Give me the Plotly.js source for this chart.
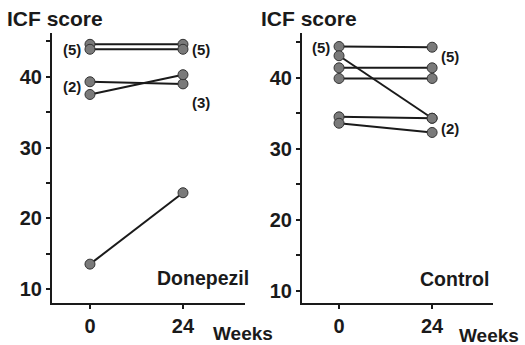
<!DOCTYPE html>
<html><head><meta charset="utf-8">
<script src="https://cdn.plot.ly/plotly-3.0.1.min.js"></script>
<style>html,body{margin:0;padding:0;background:#fff}#c{width:525px;height:345px}</style>
</head><body><div id="c"></div>
<script>
const weeks = [0, 24];
const weekTickLabels = ['0', '24'];
const scoreTicks = [10, 15, 20, 25, 30, 35, 40, 45];
const scoreTickLabels = ['10', '', '20', '', '30', '', '40', ''];
const donepezilWeek0 = [44.6, 43.9, 39.3, 37.5, 13.5];
const donepezilWeek24 = [44.6, 43.9, 39.0, 40.3, 23.6];
const controlWeek0 = [44.4, 43.1, 41.4, 39.9, 34.5, 33.6];
const controlWeek24 = [44.3, 34.3, 41.4, 39.9, 34.3, 32.3];
const donepezilCounts = [{x: 0, y: 43.9, t: '(5)', side: 'left'}, {x: 24, y: 43.9, t: '(5)', side: 'right'},
  {x: 0, y: 38.6, t: '(2)', side: 'left'}, {x: 24, y: 36.4, t: '(3)', side: 'right'}];
const controlCounts = [{x: 0, y: 44.2, t: '(5)', side: 'left'}, {x: 24, y: 43.0, t: '(5)', side: 'right'},
  {x: 24, y: 32.9, t: '(2)', side: 'right'}];

const FONT = 'Liberation Sans, Arial, sans-serif';
const INK = '#1a1a1a';
const traces = [];
function addLines(w0, w24, xa, ya) {
  for (let i = 0; i < w0.length; i++) {
    traces.push({x: weeks, y: [w0[i], w24[i]], xaxis: xa, yaxis: ya, mode: 'lines+markers',
      type: 'scatter', showlegend: false, hoverinfo: 'skip',
      line: {color: INK, width: 2},
      marker: {size: 10, color: '#7a7a7a', line: {color: '#333', width: 1}}});
  }
}
addLines(donepezilWeek0, donepezilWeek24, 'x', 'y');
addLines(controlWeek0, controlWeek24, 'x2', 'y2');

const tf = {family: FONT, size: 20, color: INK, weight: 'bold'};
const yDom = [1 - 303 / 345, 1 - 33 / 345];
function yax(range, anchor, overlay, inside) {
  const a = {domain: yDom, range: range, anchor: anchor, showline: true, linecolor: INK, linewidth: 2,
    showgrid: false, zeroline: false, tickmode: 'array', tickvals: scoreTicks,
    ticktext: scoreTickLabels, ticks: inside ? 'inside' : 'outside', ticklen: 4, tickwidth: 2,
    tickcolor: INK, tickfont: tf};
  if (overlay) { a.overlaying = overlay; a.showticklabels = false; }
  return a;
}
function xax(domain, range, anchor, overlay, inside) {
  const a = {domain: domain, range: range, anchor: anchor, showline: true, linecolor: INK, linewidth: 2,
    showgrid: false, zeroline: false, tickmode: 'array', tickvals: weeks, ticktext: weekTickLabels,
    ticks: inside ? 'inside' : 'outside', ticklen: 4, tickwidth: 2, tickcolor: INK, tickfont: tf};
  if (overlay) { a.overlaying = overlay; a.showticklabels = false; }
  return a;
}
const xL = [52 / 525, 245 / 525], xR = [302 / 525, 493 / 525];
const layout = {
  width: 525, height: 345, margin: {l: 0, r: 0, t: 0, b: 0},
  paper_bgcolor: '#fff', plot_bgcolor: 'rgba(0,0,0,0)', showlegend: false,
  xaxis: xax(xL, [-9.8, 40], 'y'),
  yaxis: yax([8.0, 46.2], 'x'),
  xaxis2: xax(xR, [-9.55, 39.7], 'y2'),
  yaxis2: yax([8.3, 46.3], 'x2'),
  xaxis3: xax(xL, [-9.8, 40], 'y', 'x', true),
  yaxis3: yax([8.0, 46.2], 'x', 'y', true),
  xaxis4: xax(xR, [-9.55, 39.7], 'y2', 'x2', true),
  yaxis4: yax([8.3, 46.3], 'x2', 'y2', true),
  annotations: []
};
const hf = {family: FONT, size: 21, color: INK, weight: 'bold'};
const af = {family: FONT, size: 19.5, color: INK, weight: 'bold'};
const wf = {family: FONT, size: 19, color: INK, weight: 'bold'};
layout.annotations.push(
  {text: 'ICF score', xref: 'paper', yref: 'paper', x: 5 / 525, y: 1 - 18 / 345, xanchor: 'left', yanchor: 'middle', showarrow: false, font: hf},
  {text: 'ICF score', xref: 'paper', yref: 'paper', x: 259 / 525, y: 1 - 18 / 345, xanchor: 'left', yanchor: 'middle', showarrow: false, font: hf},
  {text: 'Weeks', xref: 'paper', yref: 'paper', x: 211 / 525, y: 1 - 333 / 345, xanchor: 'left', yanchor: 'middle', showarrow: false, font: wf},
  {text: 'Weeks', xref: 'paper', yref: 'paper', x: 457 / 525, y: 1 - 335 / 345, xanchor: 'left', yanchor: 'middle', showarrow: false, font: wf},
  {text: 'Donepezil', xref: 'paper', yref: 'paper', x: 251 / 525, y: 1 - 278 / 345, xanchor: 'right', yanchor: 'middle', showarrow: false, font: af},
  {text: 'Control', xref: 'paper', yref: 'paper', x: 491 / 525, y: 1 - 279 / 345, xanchor: 'right', yanchor: 'middle', showarrow: false, font: af}
);
const cf = {family: FONT, size: 15, color: INK, weight: 'bold'};
function addCounts(list, xr, yr) {
  list.forEach(c => layout.annotations.push({text: c.t, x: c.x, y: c.y, xref: xr, yref: yr, showarrow: false,
    xanchor: c.side === 'left' ? 'right' : 'left', xshift: c.side === 'left' ? -7 : 7, yanchor: 'middle', font: cf}));
}
addCounts(donepezilCounts, 'x', 'y');
addCounts(controlCounts, 'x2', 'y2');
Plotly.newPlot('c', traces, layout, {staticPlot: true, displayModeBar: false});
</script></body></html>
